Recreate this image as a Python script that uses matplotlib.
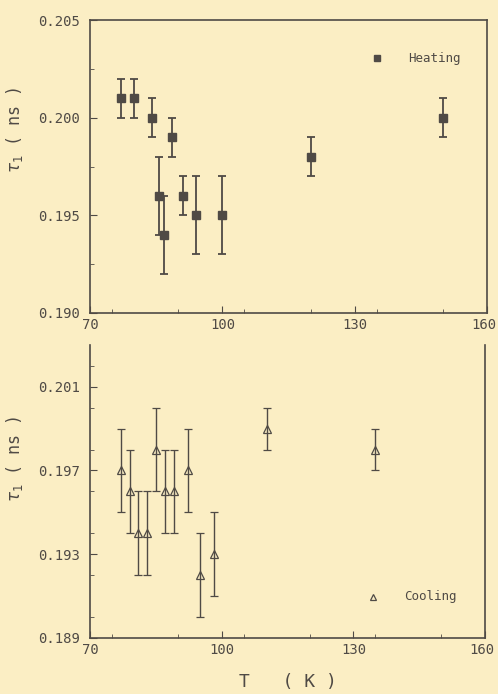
import numpy as np
import matplotlib
matplotlib.use("Agg")
import matplotlib.pyplot as plt
import matplotlib.transforms as mtransforms
from matplotlib.ticker import MultipleLocator


# Heating data
heat_T = [77, 80, 84, 85.7, 86.8, 88.5, 91, 94, 100, 120, 150]
heat_tau = [0.201, 0.201, 0.200, 0.196, 0.194, 0.199, 0.196, 0.195, 0.195, 0.198, 0.200]
heat_err = [0.001, 0.001, 0.001, 0.002, 0.002, 0.001, 0.001, 0.002, 0.002, 0.001, 0.001]

# Cooling data
cool_T = [77, 79, 81, 83, 85, 87, 89, 92.2, 95, 98.2, 110.4, 135]
cool_tau = [0.197, 0.196, 0.194, 0.194, 0.198, 0.196, 0.196, 0.197, 0.192, 0.193, 0.199, 0.198]
cool_err = [0.002, 0.002, 0.002, 0.002, 0.002, 0.002, 0.002, 0.002, 0.002, 0.002, 0.001, 0.001]

x_ticks = [70, 100, 130, 160]
top_yticks = [0.190, 0.195, 0.200, 0.205]
bot_yticks = [0.189, 0.193, 0.197, 0.201]

paper = '#fbeec4'
ink = '#4f4a45'

plt.rcParams['font.family'] = ['DejaVu Sans Mono']
plt.rcParams['font.size'] = 10

fig = plt.figure(figsize=(4.98, 6.94), dpi=100, facecolor=paper)

# Top panel: heating
ax1 = fig.add_axes([0.181, 0.549, 0.797, 0.422], facecolor=paper)
ax1.errorbar(heat_T, heat_tau, yerr=heat_err, fmt='s', color=ink, ms=6,
             capsize=3, elinewidth=1.3, capthick=1.3)
ax1.set_xlim(70, 160)
ax1.set_ylim(0.190, 0.205)
ax1.set_xticks(x_ticks)
ax1.set_yticks(top_yticks)
ax1.set_yticklabels([f'{v:.3f}' for v in top_yticks])
ax1.set_ylabel(r'$\tau_1$ ( ns )', fontsize=12, color=ink)
ax1.yaxis.set_label_coords(-0.165, 0.625)
ax1.text(0.80, 0.87, 'Heating', transform=ax1.transAxes, color=ink,
         fontsize=9, va='center')
ax1.plot([0.723], [0.87], 's', color=ink, ms=5, transform=ax1.transAxes)

# Bottom panel: cooling
ax2 = fig.add_axes([0.181, 0.081, 0.793, 0.422], facecolor=paper)
ax2.errorbar(cool_T, cool_tau, yerr=cool_err, fmt='^', color=ink, mfc='none',
             ms=5.5, mew=0.9, capsize=3, elinewidth=1.0, capthick=1.0)
ax2.set_xlim(70, 160)
ax2.set_ylim(0.189, 0.203)
ax2.set_xticks(x_ticks)
ax2.set_yticks(bot_yticks)
ax2.set_yticklabels([f'{v:.3f}' for v in bot_yticks])
ax2.spines['top'].set_visible(False)
ax2.set_ylabel(r'$\tau_1$ ( ns )', fontsize=12, color=ink)
ax2.yaxis.set_label_coords(-0.165, 0.61)
ax2.set_xlabel('T   ( K )', fontsize=13, color=ink, labelpad=12)
ax2.text(0.795, 0.14, 'Cooling', transform=ax2.transAxes, color=ink,
         fontsize=9, va='center')
ax2.plot([0.717], [0.14], '^', color=ink, mfc='none', ms=5, mew=0.9,
         transform=ax2.transAxes)

for ax in (ax1, ax2):
    for sp in ax.spines.values():
        sp.set_color(ink)
        sp.set_linewidth(1.2)
    ax.tick_params(which='both', direction='in', colors=ink, labelcolor=ink,
                   top=False, right=False)
    ax.tick_params(which='major', length=5, labelsize=10)
    ax.tick_params(axis='y', which='major', pad=7)
    ax.tick_params(which='minor', length=3)

ax1.xaxis.set_minor_locator(MultipleLocator(15))
ax2.xaxis.set_minor_locator(MultipleLocator(15))
ax1.yaxis.set_minor_locator(MultipleLocator(0.0025))
ax2.yaxis.set_minor_locator(MultipleLocator(0.002))

# nudge the "160" labels a little left so they stay inside the figure
shift = mtransforms.ScaledTranslation(-3 / 100, 0, fig.dpi_scale_trans)
for ax in (ax1, ax2):
    lab = ax.get_xticklabels()[-1]
    lab.set_transform(lab.get_transform() + shift)

fig.savefig('out.png', dpi=100, facecolor=paper)
